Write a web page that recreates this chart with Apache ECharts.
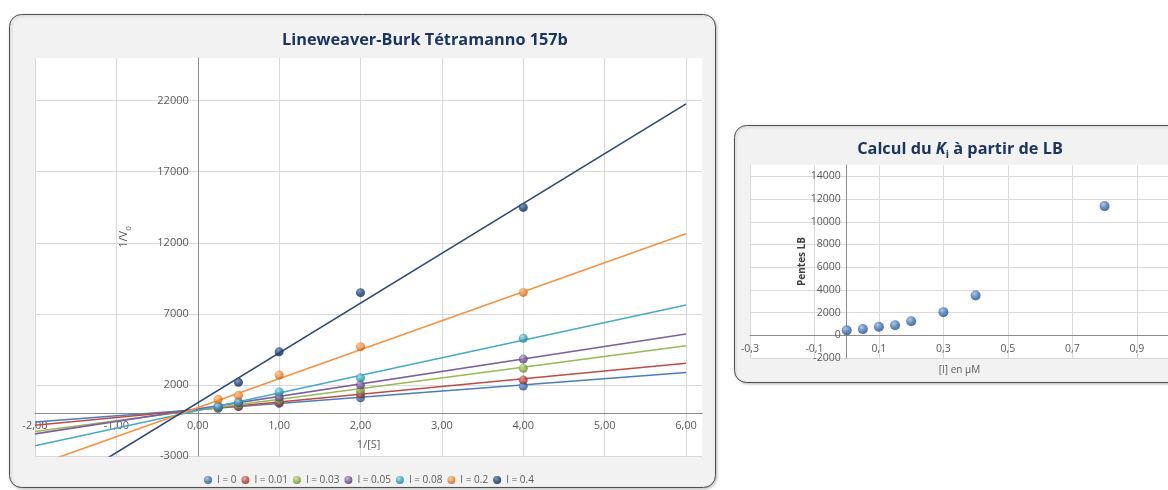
<!DOCTYPE html>
<html>
<head>
<meta charset="utf-8">
<title>Lineweaver-Burk Tétramanno 157b</title>
<script src="https://cdn.jsdelivr.net/npm/echarts@6/dist/echarts.min.js"></script>
<style>
  html, body { margin: 0; padding: 0; background: #ffffff; }
  #chart { width: 1168px; height: 490px; }
</style>
</head>
<body>
<div id="chart"></div>
<script>
// ---- Lineweaver-Burk data: 1/[S] against 1/V0 for each inhibitor level ----
const invS = [0.25, 0.5, 1, 2, 4];
const inhibitorLabels = ['I = 0', 'I = 0.01', 'I = 0.03', 'I = 0.05', 'I = 0.08', 'I = 0.2', 'I = 0.4'];
const invV_I0    = [360, 470, 700, 1100, 1920];
const invV_I001  = [390, 520, 790, 1360, 2340];
const invV_I003  = [420, 600, 960, 1640, 3170];
const invV_I005  = [500, 740, 1150, 1990, 3820];
const invV_I008  = [480, 820, 1500, 2500, 5280];
const invV_I02   = [985, 1270, 2700, 4690, 8510];
const invV_I04   = [null, 2180, 4330, 8490, 14490];

// ---- Slopes of the LB lines against inhibitor concentration ----
const concI    = [0, 0.05, 0.1, 0.15, 0.2, 0.3, 0.4, 0.8];
const pentesLB = [435, 545, 755, 878, 1238, 2040, 3504, 11380];

// Linear trend lines of the LB plot (slope taken from pentesLB, intercept = 1/Vmax)
const trendSlopes     = pentesLB.slice(0, 7);
const trendIntercepts = [260, 255, 230, 315, 195, 400, 744];
const trendRange      = [-2, 6];

// ---- Tick label values ----
const lbXTicks = { min: -2, max: 6.2, step: 1 };
const lbYTicks = { min: -3000, max: 25000, step: 5000 };
const kiXTicks = { min: -0.3, max: 1.0, step: 0.2 };
const kiYTicks = { min: -2000, max: 15000, step: 2000 };

const lbSeriesValues = [invV_I0, invV_I001, invV_I003, invV_I005, invV_I008, invV_I02, invV_I04];

// Office-style palette: [line, marker base, highlight, shade]
const palette = [
  ['#4a7ebb', '#4677b8', '#9dbbe6', '#24487c'],
  ['#be4b48', '#bd4a47', '#eb9e9b', '#822320'],
  ['#98b954', '#94b64f', '#d0e5a0', '#5f7e25'],
  ['#7d60a0', '#7a5d9e', '#bfa9d8', '#4b3370'],
  ['#46aac5', '#40a6c2', '#a3dcec', '#1b7590'],
  ['#f69240', '#f48d36', '#fdc795', '#bb5e12'],
  ['#2b4a74', '#1f4577', '#6688b5', '#0c2242']
];

function sphere(c) {
  return {
    type: 'radial', x: 0.38, y: 0.32, r: 0.7,
    colorStops: [
      { offset: 0, color: c[2] },
      { offset: 0.5, color: c[1] },
      { offset: 1, color: c[3] }
    ]
  };
}

const FONT = '"Open Sans", "Liberation Sans", sans-serif';
const AXIS_GREY = '#8c8c8c';
const GRID_GREY = '#d9d9d9';
const LABEL_GREY = '#595959';

function decimalComma(digits) {
  return v => v.toFixed(digits).replace('.', ',');
}
function plainInt(v) { return String(Math.round(v)); }

// Plot rectangles (pixels) and where the zero of each axis sits inside them
const lbRect = { left: 35, top: 58, width: 667.3, height: 398 };
const kiRect = { left: 750, top: 165, width: 419, height: 193 };

function zeroShiftX(rect, t) { return rect.width * (0 - t.min) / (t.max - t.min); }
function zeroShiftY(rect, t) { return rect.height * (0 - t.min) / (t.max - t.min); }

const series = [];
// trend lines first, markers drawn above them
lbSeriesValues.forEach((vals, i) => {
  const a = trendSlopes[i], b = trendIntercepts[i];
  series.push({
    name: 'Linéaire (' + inhibitorLabels[i] + ')',
    type: 'line',
    xAxisIndex: 0, yAxisIndex: 0,
    data: trendRange.map(x => [x, a * x + b]),
    showSymbol: false,
    symbol: 'none',
    clip: true,
    silent: true,
    lineStyle: { color: palette[i][0], width: 1.6 },
    z: 2
  });
});
lbSeriesValues.forEach((vals, i) => {
  series.push({
    name: inhibitorLabels[i],
    type: 'scatter',
    xAxisIndex: 0, yAxisIndex: 0,
    data: invS.map((x, k) => vals[k] == null ? null : [x, vals[k]]).filter(d => d),
    symbol: 'circle',
    symbolSize: 9,
    itemStyle: { color: sphere(palette[i]) },
    z: 3
  });
});
series.push({
  name: 'Pentes LB',
  type: 'scatter',
  xAxisIndex: 1, yAxisIndex: 1,
  data: concI.map((x, k) => [x, pentesLB[k]]),
  symbol: 'circle',
  symbolSize: 10,
  itemStyle: { color: sphere(palette[0]) },
  z: 3
});

const chart = echarts.init(document.getElementById('chart'), null, { renderer: 'canvas' });

const gridStyle = { show: true, backgroundColor: '#ffffff', borderWidth: 0,
                    containLabel: false, outerBoundsMode: 'none' };

chart.setOption({
  animation: false,
  backgroundColor: '#ffffff',
  textStyle: { fontFamily: FONT },
  graphic: [
    {
      type: 'rect', z: -10, silent: true,
      shape: { x: 9.5, y: 14.5, width: 706, height: 473, r: 12 },
      style: { fill: '#f2f2f2', stroke: '#505050', lineWidth: 1,
               shadowBlur: 3, shadowOffsetX: 1, shadowOffsetY: 1, shadowColor: 'rgba(0,0,0,0.25)' }
    },
    {
      type: 'rect', z: -10, silent: true,
      shape: { x: 734.5, y: 125.5, width: 500, height: 257, r: 12 },
      style: { fill: '#f2f2f2', stroke: '#505050', lineWidth: 1,
               shadowBlur: 3, shadowOffsetX: 1, shadowOffsetY: 1, shadowColor: 'rgba(0,0,0,0.25)' }
    }
  ],
  title: [
    {
      text: 'Lineweaver-Burk Tétramanno 157b',
      left: 420, top: 27, textAlign: 'center',
      textStyle: { fontFamily: FONT, fontWeight: 'bold', fontSize: 16.3, color: '#1c3560' }
    },
    {
      text: 'Calcul du {k|K}{s|i} à partir de LB',
      left: 955, top: 136, textAlign: 'center',
      textStyle: {
        fontFamily: FONT, fontWeight: 'bold', fontSize: 16.3, color: '#1c3560',
        rich: {
          k: { fontFamily: FONT, fontWeight: 'bold', fontStyle: 'italic', fontSize: 16.3, color: '#1c3560' },
          s: { fontFamily: FONT, fontWeight: 'bold', fontSize: 10.5, color: '#1c3560',
               verticalAlign: 'bottom', lineHeight: 10, padding: [0, 0, -4, 0] }
        }
      }
    }
  ],
  legend: {
    data: inhibitorLabels,
    left: 199, top: 470,
    icon: 'circle',
    itemWidth: 8, itemHeight: 8,
    itemGap: 5,
    textStyle: { fontFamily: FONT, fontSize: 10, color: LABEL_GREY },
    selectedMode: false
  },
  grid: [
    Object.assign({}, lbRect, gridStyle),
    Object.assign({}, kiRect, gridStyle)
  ],
  xAxis: [
    {
      type: 'value', gridIndex: 0, position: 'bottom',
      offset: -zeroShiftY(lbRect, lbYTicks),
      min: lbXTicks.min, max: lbXTicks.max, interval: lbXTicks.step,
      name: '1/[S]', nameLocation: 'middle', nameGap: 26,
      nameTextStyle: { fontFamily: FONT, fontSize: 11, color: LABEL_GREY },
      axisLine: { onZero: false, lineStyle: { color: AXIS_GREY, width: 1 } },
      axisTick: { show: false },
      axisLabel: { formatter: decimalComma(2), fontFamily: FONT, fontSize: 11, color: LABEL_GREY,
                   margin: 7, showMaxLabel: false, showMinLabel: true, hideOverlap: false },
      splitLine: { show: true, showMaxLine: false, lineStyle: { color: GRID_GREY, width: 1 } }
    },
    {
      type: 'value', gridIndex: 1, position: 'bottom',
      offset: -zeroShiftY(kiRect, kiYTicks),
      min: kiXTicks.min, max: kiXTicks.max, interval: kiXTicks.step,
      name: '[I] en µM', nameLocation: 'middle', nameGap: 30,
      nameTextStyle: { fontFamily: FONT, fontSize: 10, color: LABEL_GREY },
      axisLine: { onZero: false, lineStyle: { color: AXIS_GREY, width: 1 } },
      axisTick: { show: false },
      axisLabel: { formatter: decimalComma(1), fontFamily: FONT, fontSize: 10.5, color: LABEL_GREY,
                   margin: 8, showMaxLabel: false, showMinLabel: true, hideOverlap: false },
      splitLine: { show: true, showMaxLine: false, lineStyle: { color: GRID_GREY, width: 1 } }
    }
  ],
  yAxis: [
    {
      type: 'value', gridIndex: 0, position: 'left',
      offset: -zeroShiftX(lbRect, lbXTicks),
      min: lbYTicks.min, max: lbYTicks.max, interval: lbYTicks.step,
      name: '1/V{s|0}', nameLocation: 'middle', nameGap: 68, nameRotate: 90,
      nameTextStyle: {
        fontFamily: FONT, fontSize: 11, color: LABEL_GREY, padding: [0, 0, 0, 40],
        rich: { s: { fontFamily: FONT, fontSize: 8, color: LABEL_GREY, verticalAlign: 'bottom', lineHeight: 8, padding: [0, 0, -3, 0] } }
      },
      axisLine: { show: true, onZero: false, lineStyle: { color: AXIS_GREY, width: 1 } },
      axisTick: { show: false },
      axisLabel: { formatter: plainInt, fontFamily: FONT, fontSize: 11, color: LABEL_GREY, margin: 9,
                   showMaxLabel: false, hideOverlap: false },
      splitLine: { show: true, showMaxLine: false, lineStyle: { color: GRID_GREY, width: 1 } }
    },
    {
      type: 'value', gridIndex: 1, position: 'left',
      offset: -zeroShiftX(kiRect, kiXTicks),
      min: kiYTicks.min, max: kiYTicks.max, interval: kiYTicks.step,
      name: 'Pentes LB', nameLocation: 'middle', nameGap: 39, nameRotate: 90,
      nameTextStyle: { fontFamily: FONT, fontSize: 10, fontWeight: 'bold', color: '#404040' },
      axisLine: { show: true, onZero: false, lineStyle: { color: AXIS_GREY, width: 1 } },
      axisTick: { show: false },
      axisLabel: { formatter: plainInt, fontFamily: FONT, fontSize: 10.5, color: LABEL_GREY, margin: 6,
                   showMaxLabel: false, hideOverlap: false },
      splitLine: { show: true, showMaxLine: false, lineStyle: { color: GRID_GREY, width: 1 } }
    }
  ],
  series: series
});
</script>
</body>
</html>
